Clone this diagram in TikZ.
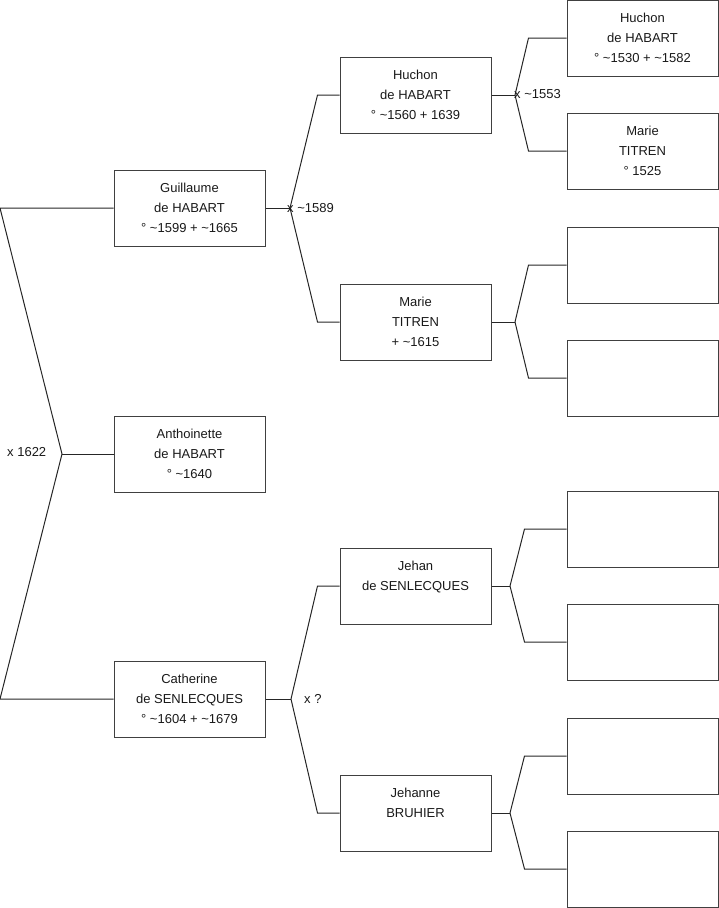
\documentclass[tikz,border=0pt]{standalone}
\usepackage{fontspec}
\setmainfont{Liberation Sans}
\newcommand\tld{\textasciitilde}
\tikzset{
  person/.style={draw=black!75, line width=1pt, rectangle, minimum width=151pt, minimum height=76pt,
    inner sep=0pt, align=center, text=black!90, font=\fontsize{13}{20}\selectfont},
  link/.style={draw=black!85, line width=1pt},
  mlabel/.style={inner sep=0pt, anchor=west, text=black!90, font=\fontsize{13}{20}\selectfont}
}
\begin{document}
\begin{tikzpicture}[x=1pt,y=-1pt]
\useasboundingbox (0,0) rectangle (719,908);
% generation 1
\node[person] (gui) at (189.5,208) {Guillaume\strut\\de HABART\strut\\° \tld1599 + \tld1665\strut};
\node[person] (ant) at (189.5,454) {Anthoinette\strut\\de HABART\strut\\° \tld1640\strut};
\node[person] (cat) at (189.5,699) {Catherine\strut\\de SENLECQUES\strut\\° \tld1604 + \tld1679\strut};
% generation 2
\node[person] (hu) at (415.5,95) {Huchon\strut\\de HABART\strut\\° \tld1560 + 1639\strut};
\node[person] (ma) at (415.5,322) {Marie\strut\\TITREN\strut\\+ \tld1615\strut};
\node[person] (je) at (415.5,586) {Jehan\strut\\de SENLECQUES\strut\\\strut};
\node[person] (jn) at (415.5,813) {Jehanne\strut\\BRUHIER\strut\\\strut};
% generation 3
\node[person] (g1) at (642.5,38) {Huchon\strut\\de HABART\strut\\° \tld1530 + \tld1582\strut};
\node[person] (g2) at (642.5,151) {Marie\strut\\TITREN\strut\\° 1525\strut};
\node[person] (g3) at (642.5,265) {};
\node[person] (g4) at (642.5,378) {};
\node[person] (g5) at (642.5,529) {};
\node[person] (g6) at (642.5,642) {};
\node[person] (g7) at (642.5,756) {};
\node[person] (g8) at (642.5,869) {};
% root connectors
\coordinate (r0) at (0,208);
\coordinate (r1) at (0,699);
\coordinate (rf) at (62,454);
\draw[link] (gui.west) -- (r0) -- (rf) -- (r1) -- (cat.west);
\draw[link] (rf) -- (ant.west);
\node[mlabel] (l0) at (7,452) {x 1622};
% Guillaume
\coordinate (f1) at (290,208);
\draw[link] (gui.east) -- (f1);
\draw[link] (f1) -- ([xshift=-22pt]hu.west) -- (hu.west);
\draw[link] (f1) -- ([xshift=-22pt]ma.west) -- (ma.west);
\node[mlabel] (l1) at (287,208) {x \tld1589};
% Catherine
\coordinate (f2) at (291,699);
\draw[link] (cat.east) -- (f2);
\draw[link] (f2) -- ([xshift=-22pt]je.west) -- (je.west);
\draw[link] (f2) -- ([xshift=-22pt]jn.west) -- (jn.west);
\node[mlabel] (l2) at (304,699) {x ?};
% Huchon
\coordinate (f3) at (515,95);
\draw[link] (hu.east) -- (f3);
\draw[link] (f3) -- ([xshift=-38pt]g1.west) -- (g1.west);
\draw[link] (f3) -- ([xshift=-38pt]g2.west) -- (g2.west);
\node[mlabel] (l3) at (514,94) {x \tld1553};
% Marie
\coordinate (f4) at (515,322);
\draw[link] (ma.east) -- (f4);
\draw[link] (f4) -- ([xshift=-38pt]g3.west) -- (g3.west);
\draw[link] (f4) -- ([xshift=-38pt]g4.west) -- (g4.west);
% Jehan
\coordinate (f5) at (510,586);
\draw[link] (je.east) -- (f5);
\draw[link] (f5) -- ([xshift=-42pt]g5.west) -- (g5.west);
\draw[link] (f5) -- ([xshift=-42pt]g6.west) -- (g6.west);
% Jehanne
\coordinate (f6) at (510,813);
\draw[link] (jn.east) -- (f6);
\draw[link] (f6) -- ([xshift=-42pt]g7.west) -- (g7.west);
\draw[link] (f6) -- ([xshift=-42pt]g8.west) -- (g8.west);
\end{tikzpicture}
\end{document}
